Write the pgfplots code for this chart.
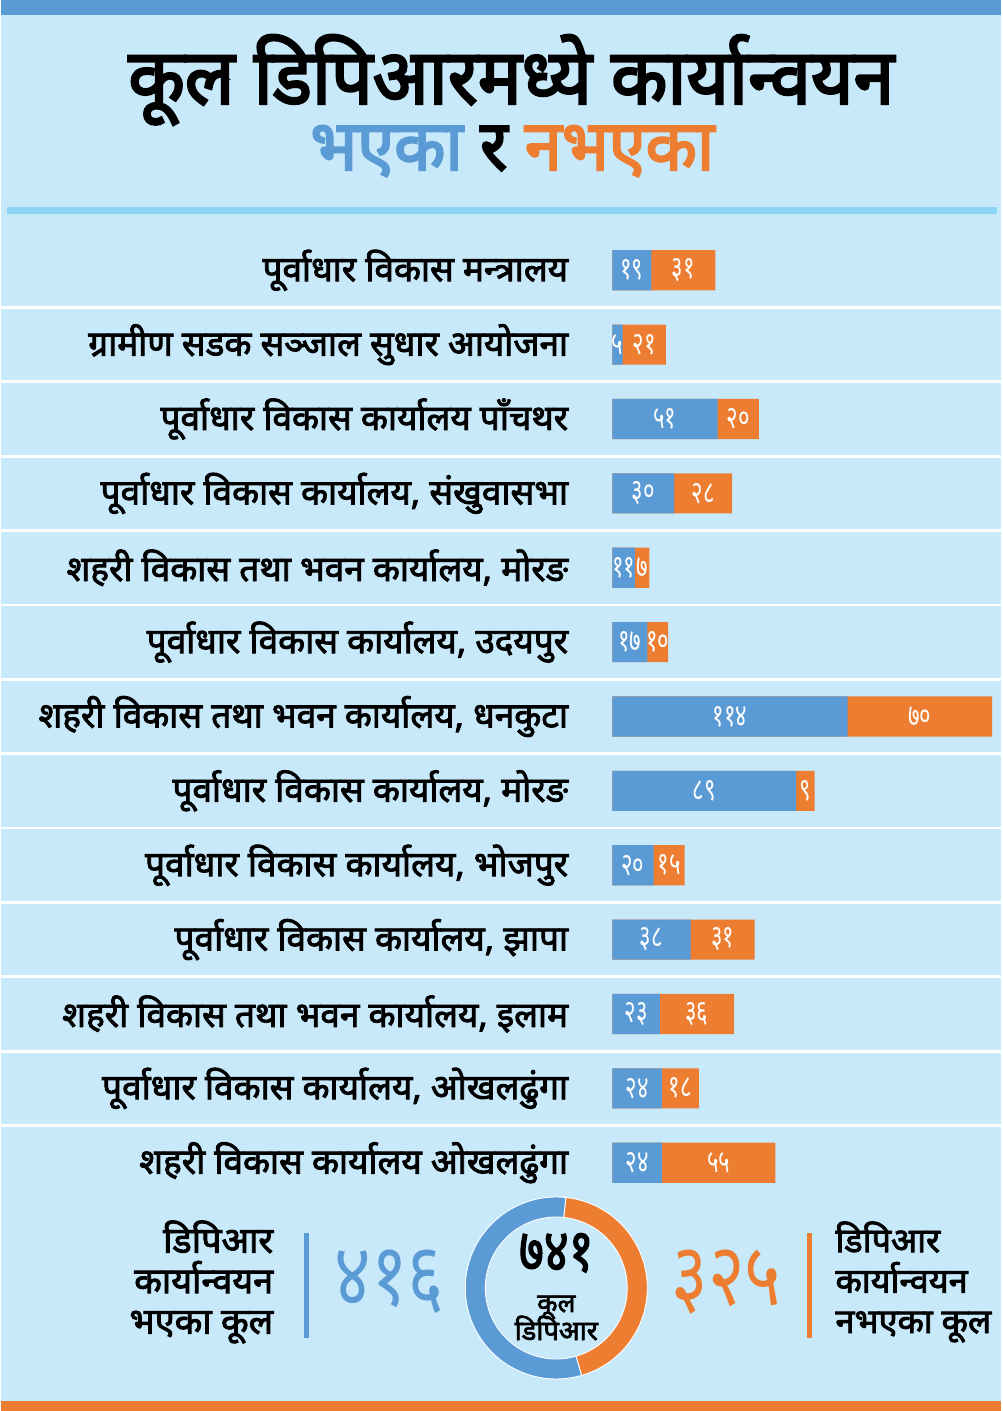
\documentclass[border=0pt]{standalone}
\usepackage{pgfplots}
\pgfplotsset{compat=1.18}
\usepackage{pgfplotstable}
\usepackage{fontspec}
\setmainfont[Script=Devanagari]{Noto Sans}
\newfontfamily\devT[Script=Devanagari,FakeStretch=0.95,FakeBold=3]{Noto Sans}
\newfontfamily\devL[Script=Devanagari,FakeStretch=1.0,FakeBold=2.5]{Noto Sans}
\newfontfamily\devC[Script=Devanagari,FakeStretch=0.8,FakeBold=2]{Noto Sans}
\newfontfamily\devN[Script=Devanagari,FakeStretch=0.8]{Noto Sans}
\newfontfamily\devV[Script=Devanagari,FakeStretch=0.7]{Noto Sans}

\definecolor{bg}{HTML}{C8E9FA}
\definecolor{cblue}{HTML}{5B9BD5}
\definecolor{corange}{HTML}{ED7D31}
\definecolor{cline}{HTML}{8DD5F5}

% y = row (top to bottom), a = implemented, b = not implemented
\pgfplotstableread{
y a b al bl
0 19 31 १९ ३१
1 5 21 ५ २१
2 51 20 ५१ २०
3 30 28 ३० २८
4 11 7 ११ ७
5 17 10 १७ १०
6 114 70 ११४ ७०
7 89 9 ८९ ९
8 20 15 २० १५
9 38 31 ३८ ३१
10 23 36 २३ ३६
11 24 18 २४ १८
12 24 55 २४ ५५
}\dprdata

\def\totDone{416}
\def\totNot{325}

\begin{document}
\begin{tikzpicture}[x=0.02cm,y=0.02cm]
% page background and bands
\fill[bg] (0,0) rectangle (1000,1411);
\fill[cblue] (0,1396) rectangle (1000,1411);
\fill[corange] (0,0) rectangle (1000,10);
\fill[cline] (6,1197) rectangle (996,1204);

% title
\node[anchor=base, inner sep=0pt, text height=28pt, text depth=0pt,
      font=\devT\fontsize{44}{50}\selectfont] at (510,1307) {कूल डिपिआरमध्ये कार्यान्वयन};
\node[anchor=base, inner sep=0pt, text height=24pt, text depth=0pt,
      font=\devT\fontsize{40}{46}\selectfont] at (511,1241)
  {\textcolor{cblue}{भएका} र \textcolor{corange}{नभएका}};

\coordinate (axc) at (500,694.5);
\begin{axis}[
    at={(axc)}, anchor=center,
    scale only axis, width=20cm, height=19.34cm,
    xmin=-295.9, xmax=188.4,
    ymin=-0.5, ymax=12.5, y dir=reverse,
    axis line style={draw=none},
    major tick length=0pt, minor tick length=0pt,
    xtick=\empty,
    ytick={0,...,12},
    yticklabels={
        {पूर्वाधार विकास मन्त्रालय},
        {ग्रामीण सडक सञ्जाल सुधार आयोजना},
        {पूर्वाधार विकास कार्यालय पाँचथर},
        {पूर्वाधार विकास कार्यालय, संखुवासभा},
        {शहरी विकास तथा भवन कार्यालय, मोरङ},
        {पूर्वाधार विकास कार्यालय, उदयपुर},
        {शहरी विकास तथा भवन कार्यालय, धनकुटा},
        {पूर्वाधार विकास कार्यालय, मोरङ},
        {पूर्वाधार विकास कार्यालय, भोजपुर},
        {पूर्वाधार विकास कार्यालय, झापा},
        {शहरी विकास तथा भवन कार्यालय, इलाम},
        {पूर्वाधार विकास कार्यालय, ओखलढुंगा},
        {शहरी विकास कार्यालय ओखलढुंगा}},
    yticklabel style={anchor=east, xshift=11.46cm, font=\devL\fontsize{20}{22}\selectfont},
    minor ytick={0.5,1.5,...,11.5},
    yminorgrids,
    minor grid style={white, line width=1.6pt},
    clip=false,
    ]
    \addplot[xbar, bar shift=0pt, bar width=0.54, fill=corange, draw=none]
        table[x expr=\thisrow{a}+\thisrow{b}, y=y]{\dprdata};
    \addplot[xbar, bar shift=0pt, bar width=0.54, fill=cblue, draw=none]
        table[x=a, y=y]{\dprdata};
    % value labels in the middle of each segment
    \addplot[only marks, mark=*, mark size=0pt, mark options={draw=none, fill=none},
        point meta=explicit symbolic, nodes near coords,
        every node near coord/.append style={white, anchor=center, inner sep=0pt, font=\devV\fontsize{18}{18}\selectfont}]
        table[x expr=\thisrow{a}/2, y=y, meta=al]{\dprdata};
    \addplot[only marks, mark=*, mark size=0pt, mark options={draw=none, fill=none},
        point meta=explicit symbolic, nodes near coords,
        every node near coord/.append style={white, anchor=center, inner sep=0pt, font=\devV\fontsize{18}{18}\selectfont}]
        table[x expr=\thisrow{a}+\thisrow{b}/2, y=y, meta=bl]{\dprdata};
\end{axis}

% bottom summary: donut from the two totals
\pgfmathsetmacro\angNot{360*(\totNot/(\totDone+\totNot))}
\begin{scope}[shift={(555,123)}]
  \fill[corange, draw=white, line width=0.5pt] (84:91) arc[start angle=84, delta angle=-\angNot, radius=91]
     -- (84-\angNot:71) arc[start angle=84-\angNot, delta angle=\angNot, radius=71] -- cycle;
  \fill[cblue, draw=white, line width=0.5pt] (84:91) arc[start angle=84, delta angle=360-\angNot, radius=91]
     -- (84-\angNot:71) arc[start angle=84-\angNot, delta angle=\angNot-360, radius=71] -- cycle;
\end{scope}
\node[anchor=base, inner sep=0pt, text height=19pt, text depth=0pt,
      font=\devC\fontsize{34}{34}\selectfont] at (555,140) {७४१};
\node[anchor=base, inner sep=0pt, text height=9pt, text depth=0pt,
      font=\devL\fontsize{15}{15}\selectfont] at (555,99) {कूल};
\node[anchor=base, inner sep=0pt, text height=10pt, text depth=0pt,
      font=\devL\fontsize{15.5}{16}\selectfont] at (555,71) {डिपिआर};

\node[cblue, font=\devN\fontsize{50}{50}\selectfont] at (388,129) {४१६};
\node[corange, font=\devN\fontsize{50}{50}\selectfont] at (725,129) {३२५};
\fill[cblue] (303,73) rectangle (308,178);
\fill[corange] (806,73) rectangle (811,178);

\node[anchor=east, align=right, font=\devL\fontsize{20.5}{23}\selectfont] at (278,129)
  {डिपिआर\\कार्यान्वयन\\भएका कूल};
\node[anchor=west, align=left, font=\devL\fontsize{19.5}{23}\selectfont] at (828,129)
  {डिपिआर\\कार्यान्वयन\\नभएका कूल};
\end{tikzpicture}
\end{document}
